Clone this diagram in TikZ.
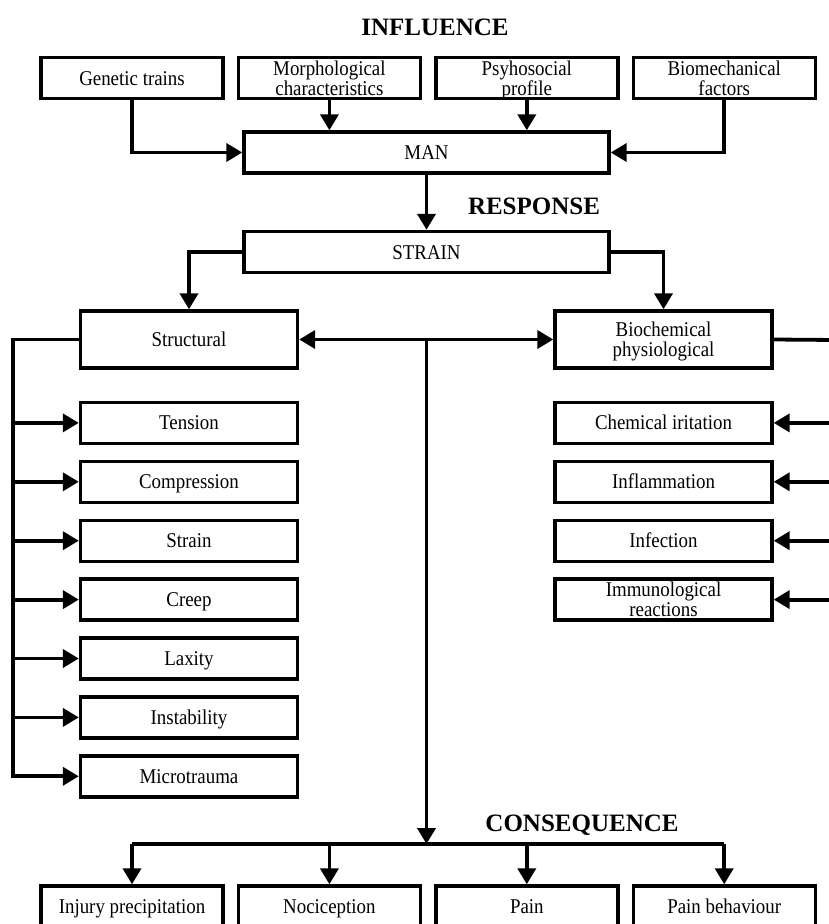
\documentclass[tikz,border=0pt]{standalone}
\usepackage{fontspec}
\setmainfont{Liberation Serif}
\newfontfamily\condfont{Liberation Serif}[FakeStretch=0.9]
\usetikzlibrary{arrows.meta, positioning}

\begin{document}
\begin{tikzpicture}[x=1pt, y=1pt, font=\condfont\fontsize{21}{20}\selectfont, line width=3.8pt,
  >={Triangle[length=16pt, width=18pt]},
  box/.style={draw, line width=3.4pt, minimum width=182pt, minimum height=41pt, align=center,
    inner sep=1pt, text height=16pt, text depth=2pt},
  twoline/.style={text height=36pt},
  wbox/.style={box, minimum width=217pt},
  title/.style={font=\bfseries\fontsize{25}{25}\selectfont}]

\useasboundingbox (0,0) rectangle (829,-924);

\node[title] (influence) at (435,-27) {INFLUENCE};

\node[box] (genetic) at (132,-78) {Genetic trains};
\node[box, twoline, right=12pt of genetic] (morph) {Morphological\\characteristics};
\node[box, twoline, right=12pt of morph] (psyho) {Psyhosocial\\profile};
\node[box, twoline, right=12pt of psyho] (biomech) {Biomechanical\\factors};

\node[box, minimum width=365pt] (man) at (426.5,-152.5) {MAN};

\node[title] (response) at (534,-206) {RESPONSE};
\node[box, minimum width=365pt] (strain) at (426.5,-252) {STRAIN};

\node[wbox, minimum height=57pt] (structural) at (189,-339.5) {Structural};
\node[wbox, twoline, minimum height=57pt] (biochem) at (663.5,-339.5) {Biochemical\\physiological};

% structural effects
\node[wbox, below=31pt of structural] (tension) {Tension};
\node[wbox, below=14.5pt of tension] (compression) {Compression};
\node[wbox, below=14.5pt of compression] (strain2) {Strain};
\node[wbox, below=14.5pt of strain2] (creep) {Creep};
\node[wbox, below=14.5pt of creep] (laxity) {Laxity};
\node[wbox, below=14.5pt of laxity] (instability) {Instability};
\node[wbox, below=14.5pt of instability] (microtrauma) {Microtrauma};

% biochemical effects
\node[wbox, below=31pt of biochem] (chemical) {Chemical iritation};
\node[wbox, below=14.5pt of chemical] (inflammation) {Inflammation};
\node[wbox, below=14.5pt of inflammation] (infection) {Infection};
\node[wbox, twoline, below=14.5pt of infection] (immuno) {Immunological\\reactions};

\node[title] (consequence) at (582,-825) {CONSEQUENCE};

\node[box] (injury) at (132,-906.5) {Injury precipitation};
\node[box, right=12pt of injury] (nociception) {Nociception};
\node[box, right=12pt of nociception] (pain) {Pain};
\node[box, right=12pt of pain] (painbeh) {Pain behaviour};

\coordinate (lbus) at (13,-340);
\coordinate (rbus) at (836,-340);
\coordinate (split) at (man.south |- structural.east);
\coordinate (cbus) at (426.5,-844);

\draw[->] (genetic.south) |- (man.west);
\draw[->] (morph.south) -- (morph.south |- man.north);
\draw[->] (psyho.south) -- (psyho.south |- man.north);
\draw[->] (biomech.south) |- (man.east);

\draw[->] (man.south) -- (man.south |- strain.north);
\draw[->] (strain.west) -| (structural.north);
\draw[->] (strain.east) -| (biochem.north);

\draw[<->] (structural.east) -- (biochem.west);
\draw[->] (split) -- (cbus);

\draw[->] (structural.west) -| (microtrauma.west -| lbus) -- (microtrauma.west);
\draw[->] (tension.west -| lbus) -- (tension.west);
\draw[->] (compression.west -| lbus) -- (compression.west);
\draw[->] (strain2.west -| lbus) -- (strain2.west);
\draw[->] (creep.west -| lbus) -- (creep.west);
\draw[->] (laxity.west -| lbus) -- (laxity.west);
\draw[->] (instability.west -| lbus) -- (instability.west);

\draw (biochem.east) -- (rbus) -- (rbus |- immuno.east);
\draw[->] (chemical.east -| rbus) -- (chemical.east);
\draw[->] (inflammation.east -| rbus) -- (inflammation.east);
\draw[->] (infection.east -| rbus) -- (infection.east);
\draw[->] (immuno.east -| rbus) -- (immuno.east);

\draw (injury.north |- cbus) -- (painbeh.north |- cbus);
\draw[->] (injury.north |- cbus) -- (injury.north);
\draw[->] (nociception.north |- cbus) -- (nociception.north);
\draw[->] (pain.north |- cbus) -- (pain.north);
\draw[->] (painbeh.north |- cbus) -- (painbeh.north);

\end{tikzpicture}
\end{document}
